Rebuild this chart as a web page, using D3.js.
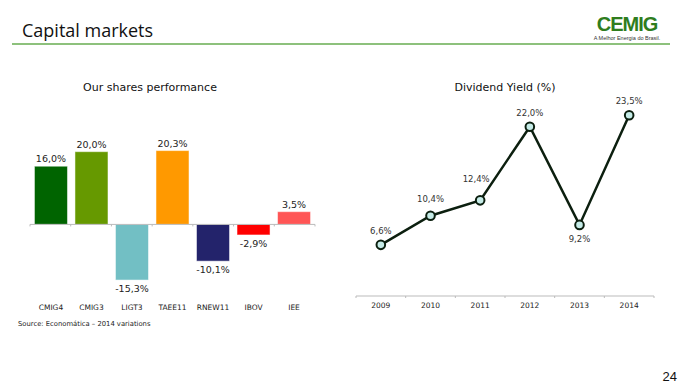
<!DOCTYPE html>
<html>
<head>
<meta charset="utf-8">
<script src="https://cdn.jsdelivr.net/npm/d3@7"></script>
<style>
  body { margin: 0; background: #fff; }
  text { font-family: "DejaVu Sans", Verdana, sans-serif; }
</style>
</head>
<body>
<div id="chart"></div>
<script>
// shares performance (2014 variations)
let shares = ["CMIG4", "CMIG3", "LIGT3", "TAEE11", "RNEW11", "IBOV", "IEE"];
let shareValues = [16.0, 20.0, -15.3, 20.3, -10.1, -2.9, 3.5];
let shareColors = ["#006400", "#669900", "#72bfc4", "#ff9900", "#23236b", "#ff0000", "#ff5555"];

// dividend yield
let years = ["2009", "2010", "2011", "2012", "2013", "2014"];
let yieldValues = [6.6, 10.4, 12.4, 22.0, 9.2, 23.5];

let fmt = v => d3.format(".1f")(v).replace(".", ",").replace("\u2212", "-") + "%";

let svg = d3.select("#chart").append("svg")
  .attr("width", 689)
  .attr("height", 388);

// slide header
svg.append("text")
  .attr("x", 22).attr("y", 37)
  .style("font-family", "'Open Sans', sans-serif")
  .style("font-size", "18px")
  .attr("fill", "#111")
  .text("Capital markets");

svg.append("line")
  .attr("x1", 12).attr("x2", 670)
  .attr("y1", 44).attr("y2", 44)
  .attr("stroke", "#8dc17c")
  .attr("stroke-width", 2);

// logo
svg.append("text")
  .attr("x", 627).attr("y", 31)
  .attr("text-anchor", "middle")
  .style("font-family", "'Liberation Sans', Arial, sans-serif")
  .style("font-size", "20px")
  .style("font-weight", "bold")
  .style("letter-spacing", "-1px")
  .attr("fill", "#2f7d1e")
  .text("CEMIG");
svg.append("text")
  .attr("x", 627).attr("y", 40)
  .attr("text-anchor", "middle")
  .style("font-family", "'Liberation Sans', Arial, sans-serif")
  .style("font-size", "5.5px")
  .attr("fill", "#333")
  .text("A Melhor Energia do Brasil.");

// ---- bar chart ----
let x = d3.scaleBand().domain(shares).range([30, 315]).paddingInner(0.185).paddingOuter(0.11);
let y = d3.scaleLinear().domain([-16, 22]).range([282.6, 144.4]);

svg.append("text")
  .attr("x", 150).attr("y", 91)
  .attr("text-anchor", "middle")
  .style("font-size", "11px")
  .attr("fill", "#111")
  .text("Our shares performance");

svg.selectAll(".bar")
  .data(shares)
  .enter().append("rect")
  .attr("class", "bar")
  .attr("x", d => x(d))
  .attr("width", x.bandwidth())
  .attr("y", (d, i) => y(Math.max(0, shareValues[i])))
  .attr("height", (d, i) => Math.abs(y(shareValues[i]) - y(0)))
  .attr("fill", (d, i) => shareColors[i])
  .attr("stroke", "#fff")
  .attr("stroke-opacity", 0.5)
  .attr("stroke-width", 1);

// zero axis with ticks at category edges
let barAxis = svg.append("g").attr("transform", "translate(0," + y(0) + ")");
barAxis.append("line")
  .attr("x1", 30).attr("x2", 315)
  .attr("stroke", "#bbb");
barAxis.selectAll(".tk")
  .data(d3.range(shares.length + 1))
  .enter().append("line")
  .attr("x1", i => 30 + i * 285 / shares.length)
  .attr("x2", i => 30 + i * 285 / shares.length)
  .attr("y1", 0).attr("y2", 2)
  .attr("stroke", "#bbb");

svg.selectAll(".barlabel")
  .data(shares)
  .enter().append("text")
  .attr("x", d => x(d) + x.bandwidth() / 2)
  .attr("y", (d, i) => shareValues[i] >= 0 ? y(shareValues[i]) - 4 : y(shareValues[i]) + 12)
  .attr("text-anchor", "middle")
  .style("font-size", "9.5px")
  .attr("fill", "#222")
  .text((d, i) => fmt(shareValues[i]));

svg.selectAll(".cat")
  .data(shares)
  .enter().append("text")
  .attr("x", d => x(d) + x.bandwidth() / 2)
  .attr("y", 310)
  .attr("text-anchor", "middle")
  .style("font-size", "7.5px")
  .attr("fill", "#222")
  .text(d => d);

svg.append("text")
  .attr("x", 18).attr("y", 326)
  .style("font-size", "6.8px")
  .attr("fill", "#222")
  .text("Source: Economática – 2014 variations");

// ---- line chart ----
let x2 = d3.scaleBand().domain(years).range([356, 654]);
let y2 = d3.scaleLinear().domain([0, 25]).range([295.5, 103.7]);
let cx = d => x2(d) + x2.bandwidth() / 2;

svg.append("text")
  .attr("x", 505).attr("y", 91)
  .attr("text-anchor", "middle")
  .style("font-size", "11px")
  .attr("fill", "#111")
  .text("Dividend Yield (%)");

let lineAxis = svg.append("g").attr("transform", "translate(0,296)");
lineAxis.append("line")
  .attr("x1", 356).attr("x2", 654)
  .attr("stroke", "#bbb");
lineAxis.selectAll(".tk")
  .data(d3.range(years.length + 1))
  .enter().append("line")
  .attr("x1", i => 356 + i * x2.step())
  .attr("x2", i => 356 + i * x2.step())
  .attr("y1", 0).attr("y2", 2)
  .attr("stroke", "#bbb");

svg.selectAll(".year")
  .data(years)
  .enter().append("text")
  .attr("x", d => cx(d))
  .attr("y", 308)
  .attr("text-anchor", "middle")
  .style("font-size", "7.5px")
  .attr("fill", "#222")
  .text(d => d);

let line = d3.line()
  .x((d, i) => cx(years[i]))
  .y(d => y2(d));

svg.append("path")
  .datum(yieldValues)
  .attr("d", line)
  .attr("fill", "none")
  .attr("stroke", "#0c1f0f")
  .attr("stroke-width", 2.5);

svg.selectAll(".pt")
  .data(yieldValues)
  .enter().append("circle")
  .attr("cx", (d, i) => cx(years[i]))
  .attr("cy", d => y2(d))
  .attr("r", 4.3)
  .attr("fill", "#c6ece8")
  .attr("stroke", "#0c1f0f")
  .attr("stroke-width", 2);

// labels sit above the points, except 2013 which goes below;
// 2010 and 2011 are lifted clear of the rising line
function labelY(year, v) {
  if (year === "2013") return y2(v) + 17;
  if (year === "2010") return y2(v) - 14;
  if (year === "2011") return y2(v) - 18;
  return y2(v) - 11;
}
svg.selectAll(".ptlabel")
  .data(yieldValues)
  .enter().append("text")
  .attr("x", (d, i) => cx(years[i]) + (years[i] === "2011" ? -4 : 0))
  .attr("y", (d, i) => labelY(years[i], d))
  .attr("text-anchor", "middle")
  .style("font-size", "8.5px")
  .attr("fill", "#333")
  .text(d => fmt(d));

// page number
svg.append("text")
  .attr("x", 677).attr("y", 381)
  .attr("text-anchor", "end")
  .style("font-family", "'Liberation Sans', Arial, sans-serif")
  .style("font-size", "13px")
  .attr("fill", "#111")
  .text("24");
</script>
</body>
</html>
